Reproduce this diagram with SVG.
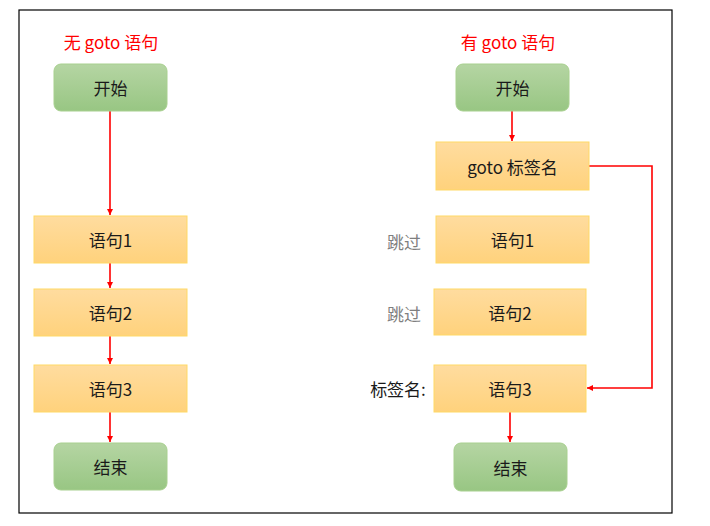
<svg xmlns="http://www.w3.org/2000/svg" width="710" height="526" viewBox="0 0 710 526">
<defs>
<linearGradient id="gG" x1="0" y1="0" x2="0" y2="1"><stop offset="0" stop-color="#b5d5a3"/><stop offset="1" stop-color="#98c683"/></linearGradient>
<linearGradient id="gO" x1="0" y1="0" x2="0" y2="1"><stop offset="0" stop-color="#ffdc9f"/><stop offset="1" stop-color="#ffd27c"/></linearGradient>
<marker id="ah" markerWidth="8" markerHeight="8" refX="6" refY="4" orient="auto" markerUnits="userSpaceOnUse"><path d="M0,1 L6,4 L0,7 z" fill="#ff0000"/></marker>
<style>
.g{fill:url(#gG);stroke:#a8d08f;stroke-width:1}
.o{fill:url(#gO);stroke:#ffd966;stroke-width:1}
.t{font-family:"Microsoft YaHei","Noto Sans CJK SC",sans-serif;font-size:17px;fill:#1a1a1a;text-anchor:middle;dominant-baseline:central}
.title{font-family:"Microsoft YaHei","Noto Sans CJK SC",sans-serif;font-size:17px;fill:#ff0000;text-anchor:middle;dominant-baseline:central}
.side{font-family:"Microsoft YaHei","Noto Sans CJK SC",sans-serif;font-size:17px;fill:#7f7f7f;text-anchor:middle;dominant-baseline:central}
.c{fill:none;stroke:#ff0000;stroke-width:1.6;marker-end:url(#ah)}
</style>
</defs>
<rect x="19" y="10" width="653" height="503" fill="#ffffff" stroke="#000000" stroke-width="1.2"/>
<text class="title" x="111" y="41">无 goto 语句</text>
<text class="title" x="508" y="41">有 goto 语句</text>
<g id="connectors">
<path class="c" d="M110,111 L110,215"/>
<path class="c" d="M110,263 L110,288"/>
<path class="c" d="M110,336 L110,364"/>
<path class="c" d="M110,412 L110,442"/>
<path class="c" d="M512,111 L512,141"/>
<path class="c" d="M589,166 L652,166 L652,388 L587,388"/>
<path class="c" d="M510,412 L510,442"/>
</g>
<g id="L_start"><rect class="g" x="54" y="64" width="113" height="47" rx="7"/><text class="t" x="110.5" y="87.5">开始</text></g>
<g id="L_s1"><rect class="o" x="34" y="216" width="153" height="47"/><text class="t" x="110.5" y="239.5">语句1</text></g>
<g id="L_s2"><rect class="o" x="34" y="289" width="153" height="47"/><text class="t" x="110.5" y="312.5">语句2</text></g>
<g id="L_s3"><rect class="o" x="34" y="365" width="153" height="47"/><text class="t" x="110.5" y="388.5">语句3</text></g>
<g id="L_end"><rect class="g" x="54" y="443" width="113" height="47" rx="7"/><text class="t" x="110.5" y="466.5">结束</text></g>
<g id="R_start"><rect class="g" x="456" y="64" width="113" height="47" rx="7"/><text class="t" x="512.5" y="87.5">开始</text></g>
<g id="R_goto"><rect class="o" x="436" y="142" width="153" height="48"/><text class="t" x="512.5" y="166">goto 标签名</text></g>
<g id="R_s1"><rect class="o" x="436" y="216" width="153" height="47"/><text class="t" x="512.5" y="239.5">语句1</text></g>
<g id="R_s2"><rect class="o" x="434" y="289" width="152" height="46"/><text class="t" x="510" y="312">语句2</text></g>
<g id="R_s3"><rect class="o" x="434" y="365" width="152" height="47"/><text class="t" x="510" y="388.5">语句3</text></g>
<g id="R_end"><rect class="g" x="454" y="443" width="113" height="48" rx="7"/><text class="t" x="510.5" y="467">结束</text></g>
<text class="side" x="404" y="241">跳过</text>
<text class="side" x="404" y="313">跳过</text>
<text class="t" x="398" y="388">标签名:</text>
</svg>
